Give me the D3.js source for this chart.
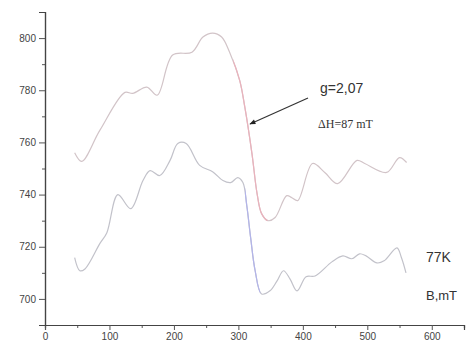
<!DOCTYPE html>
<html>
<head>
<meta charset="utf-8">
<script src="https://cdn.jsdelivr.net/npm/d3@7"></script>
<style>
  body { margin: 0; background: #fff; }
  svg { display: block; }
</style>
</head>
<body>
<script>
// upper trace
const upperB = [46, 57, 85, 124, 136, 158, 174, 198, 228, 245, 260, 274, 287, 302, 310, 321, 329, 336, 346, 357, 375, 383, 392, 415, 434, 454, 484, 496, 530, 550, 561];
const upperI = [756, 752.7, 764.6, 779.2, 778.8, 781.2, 778.1, 793.5, 794.6, 800.4, 801.9, 800.4, 794.2, 783.8, 773.5, 755.8, 740.4, 732.7, 730, 731.2, 739.6, 738.8, 737.7, 751.9, 748.5, 744.2, 753.1, 751.9, 748.5, 754.2, 752.3];

// lower trace
const lowerB = [46, 54, 62, 85, 96, 113, 133, 152, 163, 178, 194, 206, 219, 240, 260, 276, 288, 299, 307, 313, 319, 326, 336, 349, 360, 370, 380, 391, 405, 419, 445, 462, 476, 488, 498, 515, 526, 546, 553, 560];
const lowerI = [715.8, 710.8, 711.5, 721.2, 725.4, 740, 734.6, 745.4, 749.2, 747.3, 753.1, 759.6, 759.6, 751.2, 748.8, 745.4, 744.6, 746.5, 744.6, 735.8, 723.5, 710.8, 701.9, 703.1, 706.9, 710.8, 707.7, 703.1, 708.5, 708.8, 714.2, 716.5, 715.4, 717.3, 716.5, 713.8, 714.6, 719.6, 715.8, 710];

const xTicks = [0, 100, 200, 300, 400, 500, 600];
const yTicks = [700, 720, 740, 760, 780, 800];

const width = 467, height = 345;
const svg = d3.select("body").append("svg").attr("width", width).attr("height", height);

const x = d3.scaleLinear().domain([0, 650]).range([45, 464]);
const y = d3.scaleLinear().domain([690, 810]).range([325, 12]);

// axes
const xAxis = svg.append("g").attr("transform", "translate(0,325)");
xAxis.call(d3.axisBottom(x).tickValues(d3.range(50, 650, 100)).tickSize(3).tickFormat(""));
xAxis.call(g => g.append("g").call(d3.axisBottom(x).tickValues(xTicks).tickSize(5).tickPadding(3)));
const yAxis = svg.append("g").attr("transform", "translate(45,0)");
yAxis.call(d3.axisLeft(y).tickValues(d3.range(690, 811, 20)).tickSize(3).tickFormat(""));
yAxis.call(g => g.append("g").call(d3.axisLeft(y).tickValues(yTicks).tickSize(6).tickPadding(3)));
svg.selectAll(".domain").attr("stroke", "#444").attr("stroke-width", 1.2);
svg.selectAll(".tick line").attr("stroke", "#555");
svg.selectAll(".tick text").attr("fill", "#444").style("font-family", "Liberation Sans, Arial, sans-serif").style("font-size", "10px");

const line = d3.line().x(d => x(d[0])).y(d => y(d[1])).curve(d3.curveCatmullRom.alpha(0.5));
const upper = upperB.map((b, i) => [b, upperI[i]]);
const lower = lowerB.map((b, i) => [b, lowerI[i]]);

svg.append("path").attr("d", line(upper)).attr("fill", "none").attr("stroke", "#d2c4c8").attr("stroke-width", 1.2);
svg.append("path").attr("d", line(lower)).attr("fill", "none").attr("stroke", "#c2c2ca").attr("stroke-width", 1.2);

// coloured parts of the resonance drop
const clipU = svg.append("clipPath").attr("id", "cu").append("rect")
  .attr("x", x(292)).attr("width", x(345) - x(292)).attr("y", 0).attr("height", height);
const clipL = svg.append("clipPath").attr("id", "cl").append("rect")
  .attr("x", x(310)).attr("width", x(334) - x(310)).attr("y", 0).attr("height", height);
svg.append("path").attr("d", line(upper)).attr("clip-path", "url(#cu)")
  .attr("fill", "none").attr("stroke", "#eab2bc").attr("stroke-width", 1.2);
svg.append("path").attr("d", line(lower)).attr("clip-path", "url(#cl)")
  .attr("fill", "none").attr("stroke", "#b2b4ea").attr("stroke-width", 1.2);

// arrow annotation
svg.append("defs").append("marker").attr("id", "ah").attr("viewBox", "0 0 10 10")
  .attr("refX", 9).attr("refY", 5).attr("markerWidth", 6).attr("markerHeight", 5).attr("orient", "auto")
  .append("path").attr("d", "M0,1 L10,5 L0,9 z").attr("fill", "#222");
svg.append("line").attr("x1", 308).attr("y1", 98).attr("x2", 250).attr("y2", 124)
  .attr("stroke", "#333").attr("stroke-width", 1.2).attr("marker-end", "url(#ah)");

svg.append("text").attr("x", 320).attr("y", 93).text("g=2,07")
  .attr("fill", "#333").style("font-family", "Liberation Sans, Arial, sans-serif").style("font-size", "14px");
svg.append("text").attr("x", 318).attr("y", 128).text("ΔH=87 mT")
  .attr("fill", "#333").style("font-family", "Liberation Serif, Times New Roman, serif").style("font-size", "12px");
svg.append("text").attr("x", 426).attr("y", 262).text("77K")
  .attr("fill", "#333").style("font-family", "Liberation Sans, Arial, sans-serif").style("font-size", "14px");
svg.append("text").attr("x", 426).attr("y", 300).text("B,mT")
  .attr("fill", "#333").style("font-family", "Liberation Sans, Arial, sans-serif").style("font-size", "13px");
</script>
</body>
</html>
